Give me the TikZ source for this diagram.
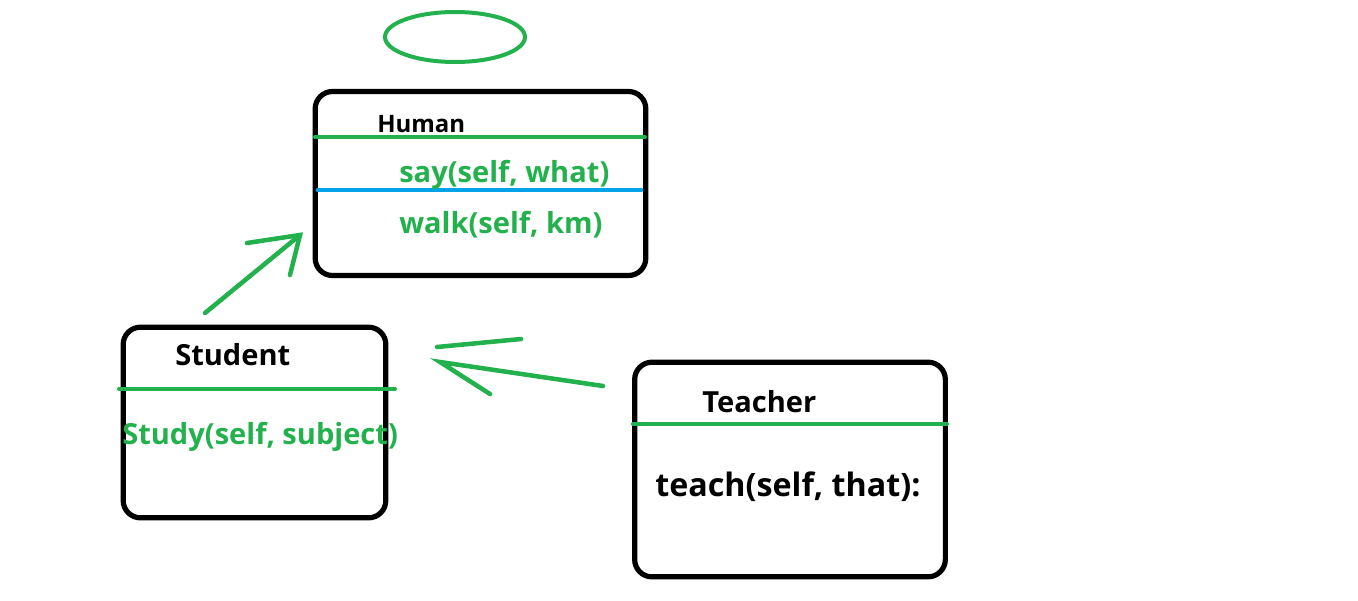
\documentclass[tikz,border=0pt]{standalone}
\usepackage{fontspec}
\setmainfont{Open Sans}
\usetikzlibrary{shapes.geometric}
\definecolor{paintgreen}{HTML}{22B14C}
\definecolor{paintblue}{HTML}{00A2E8}
\def\boxrad{13pt}

\begin{document}
\begin{tikzpicture}[x=0.75pt,y=-0.75pt,line cap=round]
        \tikzstyle{classbox}=[draw=black,line width=3.9pt,rounded corners=\boxrad,inner sep=0pt]
        \tikzstyle{divider}=[draw=paintgreen,line width=3pt]
        \tikzstyle{title}=[anchor=base west,inner sep=0pt,font=\bfseries\fontsize{21.8}{26}\selectfont]
        \tikzstyle{method}=[title,text=paintgreen]
        \tikzstyle{stroke}=[draw=paintgreen,line width=3.4pt]
        \useasboundingbox (0,0) rectangle (1358,600);
        % head of the class tree
        \node[ellipse,draw=paintgreen,line width=3pt,minimum width=105pt,minimum height=37.5pt,inner sep=0pt] (head) at (455,37) {};
        % class boxes
        \node[classbox,minimum width=248pt,minimum height=138pt] (human) at (480.5,183.5) {};
        \node[classbox,minimum width=197pt,minimum height=143pt] (student) at (254.5,422.5) {};
        \node[classbox,minimum width=233pt,minimum height=161pt] (teacher) at (790,469.5) {};
        \draw[divider] (315,137) -- (645,137);
        \draw[draw=paintblue,line width=3.6pt] (318,190) -- (641,190);
        \draw[divider] (119,389) -- (395,389);
        \draw[divider] (633,424) -- (947,424);
        % names and methods
        \node[title,font=\bfseries\fontsize{18}{22}\selectfont] (human-name) at (377,132) {Human};
        \node[method] (human-say) at (399,182) {say(self, what)};
        \node[method] (human-walk) at (399,233) {walk(self, km)};
        \node[title] (student-name) at (175,365) {Student};
        \node[method] (student-study) at (122,444) {Study(self, subject)};
        \node[title] (teacher-name) at (702,412) {Teacher};
        \node[title,font=\bfseries\fontsize{24.2}{29}\selectfont] (teacher-teach) at (655,496) {teach(self, that):};
        % inheritance arrows
        \coordinate (s-tail) at (205,313);
        \coordinate (s-tip) at (300,235);
        \draw[stroke] (s-tail) -- (s-tip);
        \draw[stroke] (247,243) -- (s-tip) -- (290,275);
        \coordinate (t-tail) at (603,386);
        \coordinate (t-tip) at (440,362);
        \draw[stroke] (t-tail) -- (t-tip) -- (490,394);
        \draw[stroke] (437,347) -- (521,339);
\end{tikzpicture}
\end{document}
